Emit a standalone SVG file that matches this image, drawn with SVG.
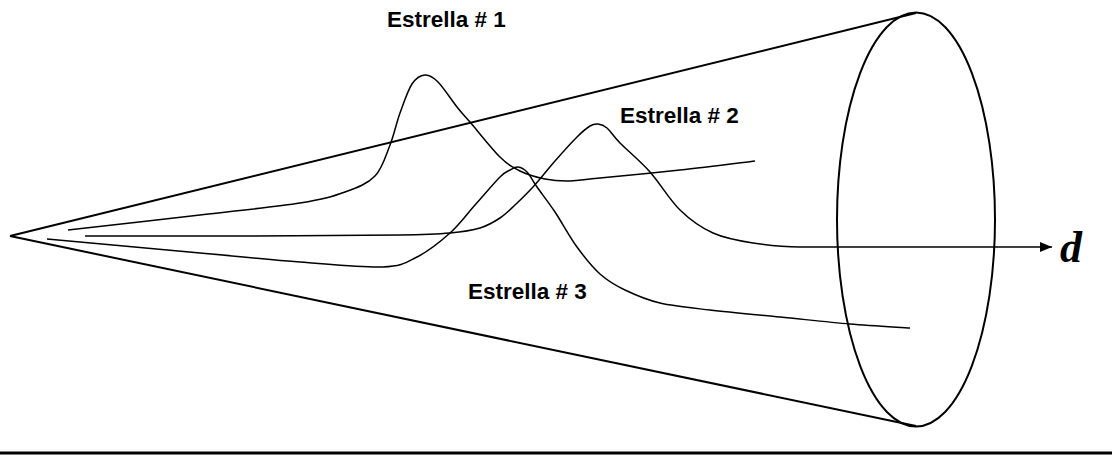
<svg xmlns="http://www.w3.org/2000/svg" width="1112" height="455" viewBox="0 0 1112 455">
<style>
.cone{fill:none;stroke:#000;stroke-width:2}
.curve{fill:none;stroke:#000;stroke-width:1.5}
.lbl{font-family:"Liberation Sans",Arial,sans-serif;font-weight:bold;font-size:22.5px;fill:#000}
.d{font-family:"Liberation Serif","Times New Roman",serif;font-weight:bold;font-style:italic;font-size:44px;fill:#000}
</style>
<defs>
<marker id="arr" markerWidth="12" markerHeight="10" refX="12" refY="5" orient="auto" markerUnits="userSpaceOnUse">
<path d="M0,0 L12,5 L0,10 Z" fill="#000"/>
</marker>
</defs>
<g id="cone">
<line class="cone" x1="10" y1="236" x2="916" y2="13"/>
<line class="cone" x1="10" y1="236" x2="916" y2="426"/>
<ellipse class="cone" cx="916" cy="219.5" rx="79" ry="207"/>
</g>
<g id="connectors">
<path id="star1" class="curve" d="M68,230 C90,227.5 161.3,219.5 200,215 C238.7,210.5 275.8,206.8 300,203 C324.2,199.2 332.5,196.5 345,192 C357.5,187.5 367.5,183.8 375,176 C382.5,168.2 385.8,155.5 390,145 C394.2,134.5 396.3,123.2 400,113 C403.7,102.8 407.8,90.3 412,84 C416.2,77.7 420.7,75.3 425,75 C429.3,74.7 432.7,76.7 438,82 C443.3,87.3 451.7,100.3 457,107 C462.3,113.7 462.8,113.7 470,122 C477.2,130.3 491.7,148.8 500,157 C508.3,165.2 512.5,167.3 520,171 C527.5,174.7 536.7,177.3 545,179 C553.3,180.7 560.8,181.2 570,181 C579.2,180.8 581.7,179.8 600,178 C618.3,176.2 654.2,172.8 680,170 C705.8,167.2 742.5,162.5 755,161"/>
<path id="star2" class="curve" marker-end="url(#arr)" d="M85,236 C112.5,236 197.5,236.2 250,236 C302.5,235.8 366.7,235.5 400,235 C433.3,234.5 436.7,234.2 450,233 C463.3,231.8 471.7,230.5 480,228 C488.3,225.5 494.2,221.8 500,218 C505.8,214.2 509.5,210.2 515,205 C520.5,199.8 526.3,194.3 533,187 C539.7,179.7 547.7,169.3 555,161 C562.3,152.7 571.2,142.8 577,137 C582.8,131.2 586.5,128.2 590,126 C593.5,123.8 595.2,123.7 598,124 C600.8,124.3 603.3,124.8 607,128 C610.7,131.2 612.8,135.7 620,143 C627.2,150.3 640,160.8 650,172 C660,183.2 669.5,199.8 680,210 C690.5,220.2 700.8,227.5 713,233 C725.2,238.5 738.5,240.7 753,243 C767.5,245.3 785,247 800,247 L1052,247"/>
<path id="star3" class="curve" d="M47,239 C72.5,241.3 157.8,249.2 200,253 C242.2,256.8 269.5,259.7 300,262 C330.5,264.3 363.5,267.8 383,267 C402.5,266.2 405.8,262.7 417,257 C428.2,251.3 440.3,241.7 450,233 C459.7,224.3 466.7,214.3 475,205 C483.3,195.7 494.2,182.8 500,177 C505.8,171.2 507,171.7 510,170 C513,168.3 515.2,166.7 518,167 C520.8,167.3 523.8,168.7 527,172 C530.2,175.3 532.3,180.3 537,187 C541.7,193.7 548.3,202 555,212 C561.7,222 569.5,236.7 577,247 C584.5,257.3 592,266.8 600,274 C608,281.2 615,285.2 625,290 C635,294.8 645.8,299.7 660,303 C674.2,306.3 690,307.7 710,310 C730,312.3 756.7,314.7 780,317 C803.3,319.3 828.3,322.2 850,324 C871.7,325.8 900,327.3 910,328"/>
</g>
<g id="label1"><text class="lbl" x="387" y="27">Estrella # 1</text></g>
<g id="label2"><text class="lbl" x="620" y="123">Estrella # 2</text></g>
<g id="label3"><text class="lbl" x="468" y="299">Estrella # 3</text></g>
<g id="label-d"><text class="d" x="1060" y="262">d</text></g>
<line x1="0" y1="453" x2="1112" y2="453" stroke="#000" stroke-width="3"/>
</svg>
